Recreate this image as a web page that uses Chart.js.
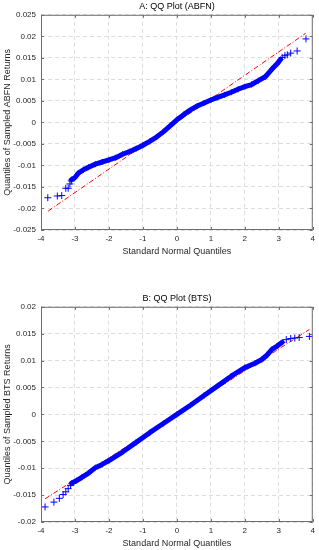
<!DOCTYPE html>
<html>
<head>
    <title>QQ Plots</title>
    <script src="https://cdn.jsdelivr.net/npm/chart.js"></script>
    <style>
        body {
            margin: 0;
            background: #fff;
            width: 319px;
            height: 550px;
            position: relative;
            overflow: hidden;
        }
        .plot {
            position: absolute;
            left: 0;
            width: 319px;
            height: 258px;
        }
    </style>
</head>
<body>
    <div class="plot" style="top: 0px;"><canvas id="chartA"></canvas></div>
    <div class="plot" style="top: 292px;"><canvas id="chartB"></canvas></div>

    <script>
        // shared x axis (standard normal quantiles)
        var xTicks = [-4, -3, -2, -1, 0, 1, 2, 3, 4];
        var xLabels = ['-4', '-3', '-2', '-1', '0', '1', '2', '3', '4'];

        // A: ABFN
        var yTicksA = [-0.025, -0.02, -0.015, -0.01, -0.005, 0, 0.005, 0.01, 0.015, 0.02, 0.025];
        var yLabelsA = ['-0.025', '-0.02', '-0.015', '-0.01', '-0.005', '0', '0.005', '0.01', '0.015', '0.02', '0.025'];
        var bandXA = [-3.1, -3.0, -2.9, -2.75, -2.6, -2.4, -2.2, -2.0, -1.8, -1.6, -1.4, -1.2, -1.0, -0.8, -0.6, -0.4, -0.2, 0.0,
                      0.2, 0.4, 0.6, 0.8, 1.0, 1.2, 1.4, 1.6, 1.8, 2.0, 2.2, 2.4, 2.6, 2.8, 2.95, 3.05];
        var bandYA = [-0.0133, -0.0128, -0.0118, -0.0110, -0.0104, -0.0097, -0.0092, -0.0087, -0.0082, -0.0074, -0.0068, -0.0061,
                      -0.0053, -0.0044, -0.0034, -0.0022, -0.0008, 0.0006, 0.0018, 0.0029, 0.0038, 0.0045, 0.0052, 0.0058,
                      0.0064, 0.0070, 0.0077, 0.0083, 0.0088, 0.0097, 0.0106, 0.0124, 0.0136, 0.0146];
        var tailXA = [-3.8, -3.52, -3.39, -3.27, -3.2, -3.15, -3.11, 3.1, 3.18, 3.25, 3.35, 3.54, 3.8];
        var tailYA = [-0.0175, -0.0171, -0.0170, -0.0153, -0.0153, -0.0143, -0.0136, 0.0151, 0.0155, 0.0157, 0.0161, 0.0166, 0.0194];
        var refXA = [-3.79, 3.79];
        var refYA = [-0.0206, 0.0207];

        // B: BTS
        var yTicksB = [-0.02, -0.015, -0.01, -0.005, 0, 0.005, 0.01, 0.015, 0.02];
        var yLabelsB = ['-0.02', '-0.015', '-0.01', '-0.005', '0', '0.005', '0.01', '0.015', '0.02'];
        var bandXB = [-3.1, -2.95, -2.8, -2.6, -2.4, -2.2, -2.0, -1.6, -1.2, -0.8, -0.4, 0.0, 0.4, 0.8, 1.2, 1.6, 2.0,
                      2.3, 2.5, 2.65, 2.8, 2.95, 3.1];
        var bandYB = [-0.0128, -0.0123, -0.0117, -0.0109, -0.0099, -0.0093, -0.0086, -0.0070, -0.0052, -0.0034, -0.0017, 0.0,
                      0.0017, 0.0035, 0.0053, 0.0071, 0.0087, 0.0095, 0.0102, 0.0110, 0.0121, 0.0127, 0.0134];
        var tailXB = [-3.88, -3.62, -3.46, -3.35, -3.27, -3.2, -3.13, 3.22, 3.35, 3.47, 3.6, 3.9];
        var tailYB = [-0.0172, -0.0163, -0.0156, -0.0149, -0.0144, -0.0138, -0.0132, 0.0139, 0.0141, 0.0142, 0.0143, 0.0145];
        var refXB = [-3.88, 3.9];
        var refYB = [-0.0157, 0.0158];

        var FONT = "'Liberation Sans', Arial, Helvetica, sans-serif";
        var TEXT = '#262626';
        var BLUE = '#0000ff';

        function toPoints(xs, ys) {
            return xs.map(function(x, i) { return { x: x, y: ys[i] }; });
        }

        // axes box with inward tick marks, like matlab
        var boxPlugin = {
            id: 'box',
            afterDraw: function(chart) {
                var ctx = chart.ctx;
                var a = chart.chartArea;
                var len = 3;
                ctx.save();
                ctx.strokeStyle = '#6e6e6e';
                ctx.lineWidth = 1;
                ctx.strokeRect(a.left + 0.5, a.top + 0.5, a.right - a.left - 1, a.bottom - a.top - 1);
                ctx.beginPath();
                chart.scales.x.ticks.forEach(function(t) {
                    var px = Math.round(chart.scales.x.getPixelForValue(t.value)) + 0.5;
                    ctx.moveTo(px, a.bottom); ctx.lineTo(px, a.bottom - len);
                    ctx.moveTo(px, a.top); ctx.lineTo(px, a.top + len);
                });
                chart.scales.y.ticks.forEach(function(t) {
                    var py = Math.round(chart.scales.y.getPixelForValue(t.value)) + 0.5;
                    ctx.moveTo(a.left, py); ctx.lineTo(a.left + len, py);
                    ctx.moveTo(a.right, py); ctx.lineTo(a.right - len, py);
                });
                ctx.stroke();
                ctx.restore();
            }
        };

        function makeChart(id, title, yTitle, bandX, bandY, tailX, tailY, refX, refY, yTicks, yLabels) {
            var ctx = document.getElementById(id).getContext('2d');
            return new Chart(ctx, {
                type: 'scatter',
                data: {
                    datasets: [{
                        label: 'sample',
                        data: toPoints(bandX, bandY),
                        showLine: true,
                        borderColor: BLUE,
                        backgroundColor: BLUE,
                        borderWidth: 5,
                        borderJoinStyle: 'round',
                        borderCapStyle: 'round',
                        pointStyle: 'cross',
                        pointRadius: 3,
                        pointBorderWidth: 1,
                        order: 1
                    }, {
                        label: 'tails',
                        data: toPoints(tailX, tailY),
                        showLine: false,
                        borderColor: BLUE,
                        backgroundColor: BLUE,
                        pointStyle: 'cross',
                        pointRadius: 3.5,
                        pointBorderWidth: 1,
                        order: 1
                    }, {
                        label: 'reference',
                        data: toPoints(refX, refY),
                        showLine: true,
                        borderColor: '#ff0000',
                        borderWidth: 1,
                        borderDash: [5, 2, 1, 2],
                        pointRadius: 0,
                        order: 2
                    }]
                },
                options: {
                    responsive: true,
                    maintainAspectRatio: false,
                    animation: false,
                    layout: { padding: { left: 0, right: 5, top: 0, bottom: 0 } },
                    plugins: {
                        legend: { display: false },
                        tooltip: { enabled: false },
                        title: {
                            display: true,
                            text: title,
                            fullSize: false,
                            color: '#000',
                            font: { family: FONT, size: 9, weight: 'normal' },
                            padding: { top: 1, bottom: 3 }
                        }
                    },
                    scales: {
                        x: {
                            type: 'linear',
                            min: -4,
                            max: 4,
                            afterBuildTicks: function(s) {
                                s.ticks = xTicks.map(function(v) { return { value: v }; });
                            },
                            afterFit: function(s) { s.height = 28; },
                            ticks: {
                                color: TEXT,
                                padding: 4,
                                font: { family: FONT, size: 8 },
                                callback: function(v) { return xLabels[xTicks.indexOf(v)]; }
                            },
                            grid: { color: '#dedede', drawTicks: false },
                            border: { display: false, dash: [4, 3] },
                            title: {
                                display: true,
                                text: 'Standard Normal Quantiles',
                                color: TEXT,
                                font: { family: FONT, size: 9 },
                                padding: { top: 0, bottom: 1 }
                            }
                        },
                        y: {
                            type: 'linear',
                            min: yTicks[0],
                            max: yTicks[yTicks.length - 1],
                            afterBuildTicks: function(s) {
                                s.ticks = yTicks.map(function(v) { return { value: v }; });
                            },
                            afterFit: function(s) { s.width = 41; },
                            ticks: {
                                color: TEXT,
                                padding: 5,
                                font: { family: FONT, size: 8 },
                                callback: function(v) { return yLabels[yTicks.indexOf(v)]; }
                            },
                            grid: { color: '#dedede', drawTicks: false },
                            border: { display: false, dash: [4, 3] },
                            title: {
                                display: true,
                                text: yTitle,
                                color: TEXT,
                                font: { family: FONT, size: 9 },
                                padding: { top: 2, bottom: 0 }
                            }
                        }
                    }
                },
                plugins: [boxPlugin]
            });
        }

        makeChart('chartA', 'A: QQ Plot (ABFN)', 'Quantiles of Sampled ABFN Returns',
            bandXA, bandYA, tailXA, tailYA, refXA, refYA, yTicksA, yLabelsA);
        makeChart('chartB', 'B: QQ Plot (BTS)', 'Quantiles of Sampled BTS Returns',
            bandXB, bandYB, tailXB, tailYB, refXB, refYB, yTicksB, yLabelsB);
    </script>
</body>
</html>
